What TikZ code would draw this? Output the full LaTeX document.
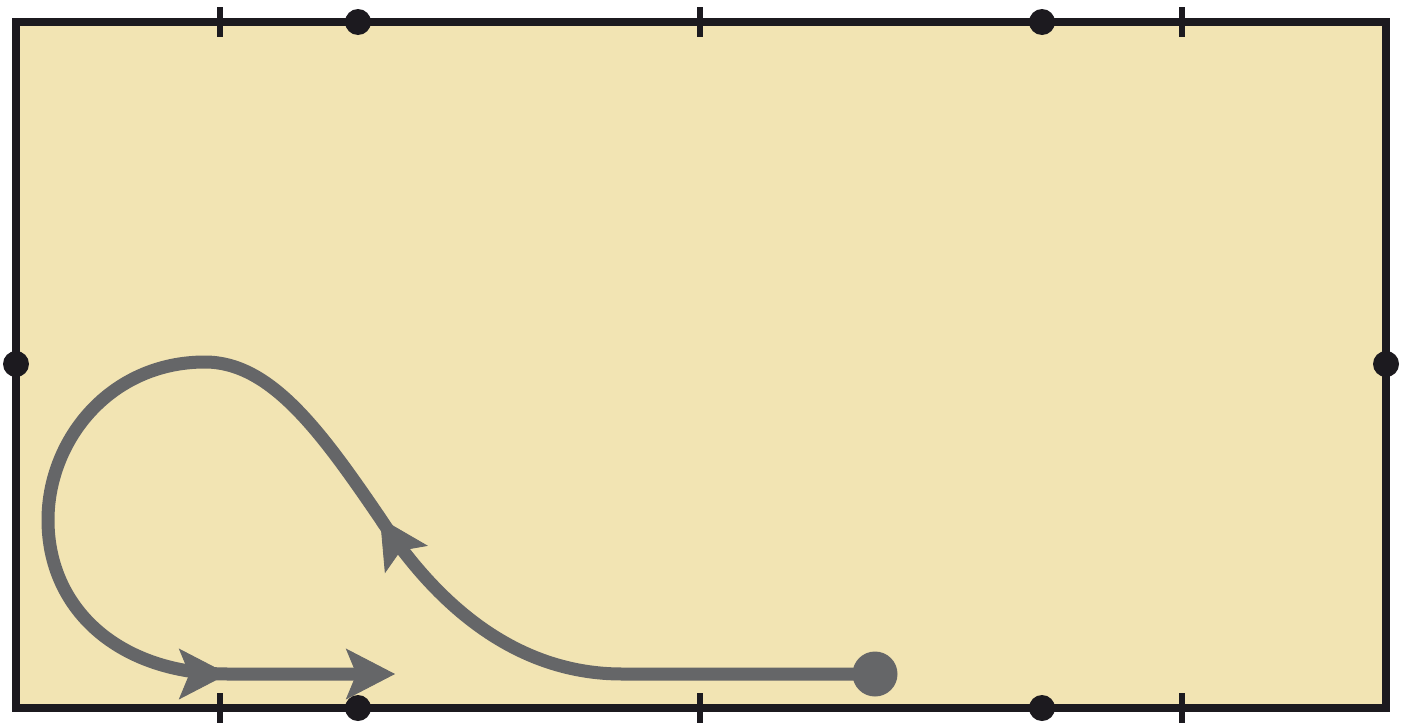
\documentclass[tikz,border=0pt]{standalone}
\usetikzlibrary{arrows.meta}
\definecolor{paper}{HTML}{F2E4B3}
\definecolor{ink}{HTML}{1C1A1F}
\definecolor{route}{HTML}{656668}

\begin{document}
\begin{tikzpicture}[x=0.02cm,y=-0.02cm,
	route line/.style={route,line width=7.4pt,line join=round},
	flow arrow/.style={route,line width=0.5pt,-{Stealth[length=28pt,width=29pt,inset=6pt]}},
	frame line/.style={ink,line width=4pt}]
	
	\useasboundingbox (0,0) rectangle (1407,724);
	
	% the sheet
	\fill[paper] (16,22) rectangle (1386,708);
	
	% the route
	\coordinate (start) at (875,674);
	\coordinate (bend) at (622,674);
	\coordinate (mid) at (380,518);
	\coordinate (mid back) at (408,562);
	\coordinate (top) at (205,362);
	\coordinate (left) at (48,520);
	\coordinate (in) at (228,674);
	\coordinate (in back) at (176,674);
	\coordinate (near) at (360,674);
	\coordinate (out) at (395,674);
	
	\draw[route line] (start) -- (bend) .. controls (520,674) and (440,610) .. (mid)
		.. controls (320,430) and (270,362) .. (top)
		.. controls (110,362) and (48,440) .. (left)
		.. controls (48,610) and (120,674) .. (in) -- (near);
	\draw[flow arrow] (mid back) -- (mid);
	\draw[flow arrow] (in back) -- (in);
	\draw[flow arrow] (in) -- (out);
	\fill[route] (start) circle (0.45cm);
	
	% the frame
	\draw[frame line] (16,22) rectangle (1386,708);
	
	\foreach \x in {220,700,1182}
	{
		\draw[ink,line width=3.4pt] (\x,7) -- (\x,37);
		\draw[ink,line width=3.4pt] (\x,693) -- (\x,723);
	}
	
	\foreach \x/\y in {358/22,1042/22,358/708,1042/708,16/364,1386/364}
		\fill[ink] (\x,\y) circle (0.26cm);
	
\end{tikzpicture}
\end{document}
